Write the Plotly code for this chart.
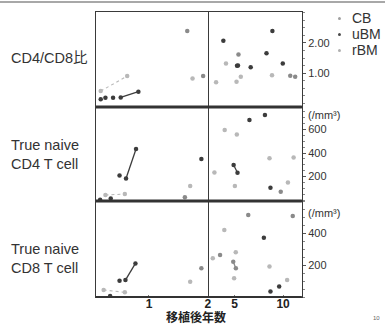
import plotly.graph_objects as go
from plotly.subplots import make_subplots

# ---------------- data (years after transplant, values) ----------------
series_names = ["CB", "uBM", "rBM"]
series_colors = {"CB": "#8a8a8a", "uBM": "#3c3c3c", "rBM": "#b8b8b8"}
legend_dot_colors = {"CB": "#a0a0a0", "uBM": "#4a4a4a", "rBM": "#b0b0b0"}

# Panel 1: CD4/CD8 ratio
ratio_uBM_x = [0.18, 0.26, 0.39, 3.84, 5.25, 5.35, 6.66, 8.29, 8.9, 9.97]
ratio_uBM_y = [0.13, 0.18, 0.18, 2.07, 1.24, 1.25, 1.19, 1.66, 2.4, 1.32]
ratio_CB_x = [1.65, 1.92, 5.4, 10.74, 11.25]
ratio_CB_y = [2.4, 0.9, 1.62, 0.91, 0.88]
ratio_rBM_x = [1.74, 4.11, 5.64, 8.86, 3.09, 5.2]
ratio_rBM_y = [0.82, 1.32, 0.88, 0.93, 0.69, 0.71]
ratio_uBM_link_x = [0.52, 0.82]
ratio_uBM_link_y = [0.19, 0.38]
ratio_rBM_link_x = [0.18, 0.63]
ratio_rBM_link_y = [0.40, 0.90]

# Panel 2: true naive CD4 T cell (/mm3)
cd4_uBM_x = [0.17, 0.35, 0.50, 1.89, 6.53, 8.13, 8.7]
cd4_uBM_y = [2, 14, 210, 349, 681, 723, 105]
cd4_CB_x = [1.61, 9.76]
cd4_CB_y = [23, 71]
cd4_rBM_x = [1.70, 3.98, 5.23, 8.6, 11.09, 2.92, 5.03, 10.5]
cd4_rBM_y = [119, 596, 559, 355, 363, 235, 119, 150]
cd4_uBM_link1_x = [0.61, 0.78]
cd4_uBM_link1_y = [184, 434]
cd4_uBM_link2_x = [4.9, 5.3]
cd4_uBM_link2_y = [298, 232]
cd4_rBM_link_x = [0.26, 0.59]
cd4_rBM_link_y = [43, 51]

# Panel 3: true naive CD8 T cell (/mm3)
cd8_uBM_x = [0.34, 0.50, 8.02, 9.6, 8.7]
cd8_uBM_y = [6, 102, 371, 65, 35]
cd8_CB_x = [1.89, 6.41, 11.0, 3.5]
cd8_CB_y = [179, 512, 506, 262]
cd8_rBM_x = [1.70, 3.94, 5.12, 2.75, 8.6, 4.95, 10.42]
cd8_rBM_y = [96, 419, 279, 242, 190, 117, 106]
cd8_uBM_link_x = [0.6, 0.77]
cd8_uBM_link_y = [106, 210]
cd8_CB_link_x = [4.86, 5.13]
cd8_CB_link_y = [221, 179]
cd8_rBM_link_x = [0.23, 0.59]
cd8_rBM_link_y = [44, 29]

row_labels = ["CD4/CD8比", "True naive<br>CD4 T cell", "True naive<br>CD8 T cell"]
x_title = "移植後年数"
left_ticks = [1, 2]
right_ticks = [5, 10]
ratio_ticks = [1.0, 2.0]
ratio_ticktext = ["1.00", "2.00"]
cd4_ticks = [200, 400, 600]
cd8_ticks = [200, 400]
unit_text = "(/mm³)"
page_number = "10"

# ---------------- figure ----------------
W, H = 389, 326
fig = make_subplots(rows=3, cols=2, horizontal_spacing=0, vertical_spacing=0)

SPLIT = 2.0


def add_points(row, xs, ys, name, mode="markers", dash=None):
    left = [(x, y) for x, y in zip(xs, ys) if x < SPLIT]
    right = [(x, y) for x, y in zip(xs, ys) if x >= SPLIT]
    for col, pts in ((1, left), (2, right)):
        if not pts:
            continue
        fig.add_trace(go.Scatter(
            x=[p[0] for p in pts], y=[p[1] for p in pts], mode=mode,
            name=name, legendgroup=name, showlegend=False,
            marker=dict(size=4.5, color=series_colors[name]),
            line=dict(color=series_colors[name], width=1.3 if dash is None else 1.1,
                      dash=dash or "solid"),
            hoverinfo="skip"), row=row, col=col)


panels = [
    (1, [(ratio_uBM_x, ratio_uBM_y, "uBM"), (ratio_CB_x, ratio_CB_y, "CB"),
         (ratio_rBM_x, ratio_rBM_y, "rBM")],
     [(ratio_uBM_link_x, ratio_uBM_link_y, "uBM", None),
      (ratio_rBM_link_x, ratio_rBM_link_y, "rBM", "dot")]),
    (2, [(cd4_uBM_x, cd4_uBM_y, "uBM"), (cd4_CB_x, cd4_CB_y, "CB"),
         (cd4_rBM_x, cd4_rBM_y, "rBM")],
     [(cd4_uBM_link1_x, cd4_uBM_link1_y, "uBM", None),
      (cd4_uBM_link2_x, cd4_uBM_link2_y, "uBM", None),
      (cd4_rBM_link_x, cd4_rBM_link_y, "rBM", "dot")]),
    (3, [(cd8_uBM_x, cd8_uBM_y, "uBM"), (cd8_CB_x, cd8_CB_y, "CB"),
         (cd8_rBM_x, cd8_rBM_y, "rBM")],
     [(cd8_uBM_link_x, cd8_uBM_link_y, "uBM", None),
      (cd8_CB_link_x, cd8_CB_link_y, "CB", None),
      (cd8_rBM_link_x, cd8_rBM_link_y, "rBM", "dot")]),
]

for row, pts, links in panels:
    for xs, ys, nm, dash in links:
        add_points(row, xs, ys, nm, mode="lines+markers", dash=dash)
    for xs, ys, nm in pts:
        add_points(row, xs, ys, nm)

# ---------------- layout / axes ----------------
def py(px):
    return 1 - px / H


def pxx(px):
    return px / W


XL0, XM, XR = 97, 210, 305
row_px = [(12, 107), (107, 201), (201, 297)]
yranges = [[-0.13, 3.03], [-8, 792], [0, 600]]
LINE = "#3a3a3a"

axis_idx = 1
for r in range(3):
    top, bot = row_px[r]
    for c in range(2):
        sfx = "" if axis_idx == 1 else str(axis_idx)
        xa, ya = "xaxis" + sfx, "yaxis" + sfx
        xdom = [pxx(XL0), pxx(XM)] if c == 0 else [pxx(XM), pxx(XR)]
        xr = [0.1, 2.0] if c == 0 else [2.24, 11.94]
        xd = dict(domain=xdom, range=xr, anchor="y" + sfx, showgrid=False,
                  zeroline=False, showline=True, linecolor=LINE, linewidth=1.3,
                  mirror=True, ticks="", showticklabels=False)
        if r == 2:
            tv = left_ticks if c == 0 else right_ticks
            xd.update(showticklabels=True, tickvals=tv, ticktext=[str(v) for v in tv],
                      tickfont=dict(family="Liberation Sans", size=12, color="#222",
                                    weight="bold"),
                      ticks="inside", ticklen=2, tickcolor="#777",
                      ticklabelstandoff=-5)
        yd = dict(domain=[py(bot), py(top)], range=yranges[r], anchor="x" + sfx,
                  showgrid=False, zeroline=False, showline=True, linecolor=LINE,
                  linewidth=1.3, mirror=(c == 0), ticks="", showticklabels=False)
        if c == 1:
            tv = [ratio_ticks, cd4_ticks, cd8_ticks][r]
            tt = [ratio_ticktext, [str(v) for v in cd4_ticks],
                  [str(v) for v in cd8_ticks]][r]
            yd.update(side="right", showticklabels=True, tickvals=tv, ticktext=tt,
                      ticks="outside", ticklen=3, tickcolor="#555",
                      tickfont=dict(family="Liberation Sans", size=11, color="#333"),
                      minor=dict(ticks="outside", ticklen=2, tickcolor="#888",
                                 dtick=[0.25, 50, 50][r]))
        fig.layout[xa] = xd
        fig.layout[ya] = yd
        axis_idx += 1

shapes = [
    dict(type="line", xref="paper", yref="paper", x0=0, x1=1, y0=py(2), y1=py(2),
         line=dict(color="#a8a8a8", width=2)),
    dict(type="line", xref="paper", yref="paper", x0=pxx(XL0), x1=pxx(XR),
         y0=py(107), y1=py(107), line=dict(color="#333", width=3.2)),
    dict(type="line", xref="paper", yref="paper", x0=pxx(XL0), x1=pxx(XR),
         y0=py(201), y1=py(201), line=dict(color="#333", width=3.2)),
    dict(type="line", xref="paper", yref="paper", x0=pxx(XL0), x1=pxx(XR),
         y0=py(297), y1=py(297), line=dict(color="#333", width=2.2)),
]

annotations = []
label_y = [58, 155, 258]
for lab, yy in zip(row_labels, label_y):
    annotations.append(dict(text=lab, xref="paper", yref="paper", x=pxx(9), y=py(yy),
                            xanchor="left", yanchor="middle", align="left",
                            showarrow=False,
                            font=dict(family="Liberation Sans, Noto Sans CJK JP",
                                      size=14.5, color="#333")))
for yy in (115, 213):
    annotations.append(dict(text=unit_text, xref="paper", yref="paper", x=pxx(309),
                            y=py(yy), xanchor="left", yanchor="middle",
                            showarrow=False,
                            font=dict(family="Liberation Sans", size=11, color="#333")))
annotations.append(dict(text=x_title, xref="paper", yref="paper", x=pxx(198),
                        y=py(326), xanchor="center", yanchor="bottom",
                        showarrow=False, borderpad=0,
                        font=dict(family="Noto Sans CJK JP", size=12, color="#222",
                                  weight="bold")))
annotations.append(dict(text=page_number, xref="paper", yref="paper", x=pxx(380),
                        y=py(318), xanchor="center", yanchor="middle", showarrow=False,
                        font=dict(family="Liberation Sans", size=6, color="#666")))

# legend: entry text and dot per series
legend_rows = [18, 34, 50]
for nm, yy in zip(series_names, legend_rows):
    annotations.append(dict(text=nm, xref="paper", yref="paper", x=pxx(354), y=py(yy),
                            xanchor="left", yanchor="middle", showarrow=False,
                            font=dict(family="Liberation Sans", size=14, color="#333")))
    shapes.append(dict(type="circle", xref="paper", yref="paper",
                       x0=pxx(341.5), x1=pxx(344.5), y0=py(yy - 1.5 + 0.5),
                       y1=py(yy + 1.5 + 0.5), fillcolor=legend_dot_colors[nm],
                       line=dict(width=0)))

fig.update_layout(
    width=W, height=H, margin=dict(l=0, r=0, t=0, b=0),
    paper_bgcolor="white", plot_bgcolor="white",
    shapes=shapes, annotations=annotations,
    showlegend=False,
)

fig.write_html("out.html", config={"displayModeBar": False},
               post_script="document.body.style.margin='0px';")
